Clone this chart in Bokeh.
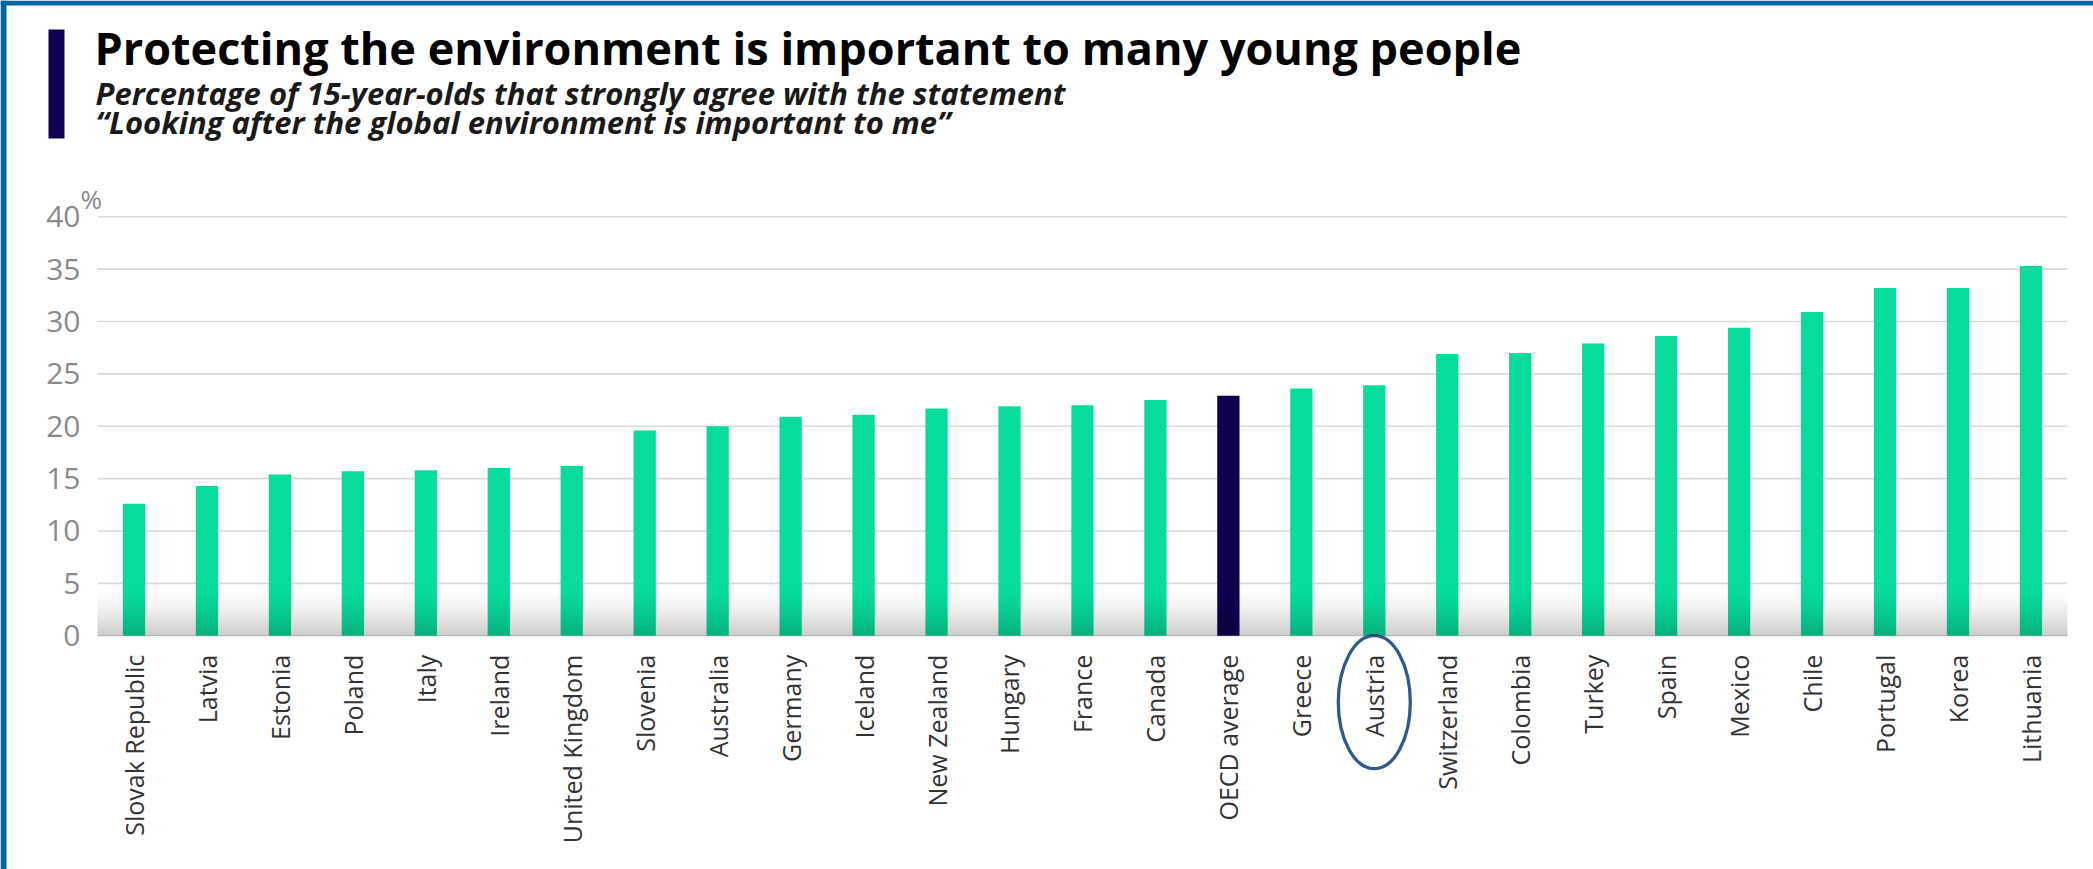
import numpy as np
from bokeh.plotting import figure
from bokeh.models import Range1d, FixedTicker, Label, BoxAnnotation
from bokeh.embed import file_html
from bokeh.resources import INLINE

# ---------------- data ----------------
countries = ["Slovak Republic", "Latvia", "Estonia", "Poland", "Italy", "Ireland",
             "United Kingdom", "Slovenia", "Australia", "Germany", "Iceland",
             "New Zealand", "Hungary", "France", "Canada", "OECD average", "Greece",
             "Austria", "Switzerland", "Colombia", "Turkey", "Spain", "Mexico",
             "Chile", "Portugal", "Korea", "Lithuania"]
values = [12.6, 14.3, 15.4, 15.7, 15.8, 16.0, 16.2, 19.6, 20.0, 20.9, 21.1,
          21.7, 21.9, 22.0, 22.5, 22.9, 23.6, 23.9, 26.9, 27.0, 27.9, 28.6, 29.4,
          30.9, 33.2, 33.2, 35.3]
highlight = "OECD average"
circled = "Austria"
y_ticks = [0, 5, 10, 15, 20, 25, 30, 35, 40]

title = "Protecting the environment is important to many young people"
subtitle_1 = "Percentage of 15-year-olds that strongly agree with the statement"
subtitle_2 = "\u201cLooking after the global environment is important to me\u201d"
unit_label = "%"

# ---------------- style ----------------
GREEN = "#07dc9c"
NAVY = "#10004f"
GRID = "#d9d9d9"
BORDER_BLUE = "#03639c"
FONT = "Open Sans"

W, H = 2093, 869
# layout helpers: plot area (categories) spans page x 97..2067, value 0 at page y 635.2
FRAME_LEFT_PAGE = 97.0
ZERO_PAGE = 635.2
PX_PER_CAT = 72.96
PX_PER_UNIT = 10.475


def x_at(page_x):
    return (page_x - FRAME_LEFT_PAGE) / PX_PER_CAT - 0.5


def y_at(page_y):
    return (ZERO_PAGE - page_y) / PX_PER_UNIT


xpos = list(range(len(countries)))
x_lo, x_hi = -0.5, len(countries) - 0.5

p = figure(width=W, height=H,
           x_range=Range1d(x_at(0), x_at(W)),
           y_range=Range1d(y_at(H), y_at(0)),
           output_backend="svg", toolbar_location=None,
           min_border=0, min_border_left=0, min_border_right=0,
           min_border_top=0, min_border_bottom=0,
           outline_line_color=None, background_fill_color="white",
           border_fill_color="white")

# horizontal grid lines over the plot area only
p.xgrid.visible = False
p.ygrid.visible = False
p.segment(x0=[x_lo] * len(y_ticks), x1=[x_hi] * len(y_ticks), y0=y_ticks, y1=y_ticks,
          line_color=GRID, line_width=1.6)

colors = [NAVY if c == highlight else GREEN for c in countries]
p.vbar(x=xpos, top=values, width=0.305, fill_color=colors, line_color=None)

# y axis drawn at the left edge of the plot area
p.yaxis.fixed_location = x_lo
p.yaxis.bounds = (0, 40)
p.yaxis.ticker = FixedTicker(ticks=y_ticks)
p.yaxis.axis_line_color = None
p.yaxis.major_tick_line_color = None
p.yaxis.minor_tick_line_color = None
p.yaxis.major_label_text_font = FONT
p.yaxis.major_label_text_font_size = "30px"
p.yaxis.major_label_text_color = "#8a8a8a"
p.yaxis.major_label_standoff = 11

# x axis drawn at value 0
p.xaxis.fixed_location = 0
p.xaxis.bounds = (x_lo, x_hi)
p.xaxis.ticker = FixedTicker(ticks=xpos)
p.xaxis.major_label_overrides = {i: c for i, c in zip(xpos, countries)}
p.xaxis.axis_line_color = None
p.xaxis.major_tick_line_color = None
p.xaxis.minor_tick_line_color = None
p.xaxis.major_label_orientation = np.pi / 2
p.xaxis.major_label_text_font = FONT
p.xaxis.major_label_text_font_size = "25px"
p.xaxis.major_label_text_color = "#333333"
p.xaxis.major_label_standoff = 13

# grey gradient band at the bottom of the plot area
n_strips = 40
edges = np.linspace(0, 4.8, n_strips + 1)
for i in range(n_strips):
    mid = 0.5 * (edges[i] + edges[i + 1])
    t = 1 - mid / 4.8
    p.add_layout(BoxAnnotation(left=x_lo, right=x_hi, bottom=edges[i], top=edges[i + 1],
                               fill_color="black", fill_alpha=0.21 * t ** 1.6,
                               line_color=None, level="overlay"))

# titles
p.add_layout(Label(x=x_at(94), y=y_at(47), text=title,
                   text_font=FONT, text_font_size="45px", text_font_style="bold",
                   text_color="#000000", text_baseline="alphabetic", text_align="left"))
p.add_layout(Label(x=x_at(95), y=y_at(92.5), text=subtitle_1,
                   text_font=FONT, text_font_size="31px", text_font_style="bold italic",
                   text_color="#1a1a1a", text_baseline="alphabetic", text_align="left"))
p.add_layout(Label(x=x_at(95), y=y_at(121), text=subtitle_2,
                   text_font=FONT, text_font_size="31px", text_font_style="bold italic",
                   text_color="#1a1a1a", text_baseline="alphabetic", text_align="left"))
# purple accent bar
p.add_layout(BoxAnnotation(left=x_at(48), right=x_at(64), top=y_at(29), bottom=y_at(138),
                           fill_color=NAVY, fill_alpha=1, line_color=None))
# unit label
p.add_layout(Label(x=x_at(80), y=y_at(198), text=unit_label,
                   text_font=FONT, text_font_size="26px",
                   text_color="#8a8a8a", text_baseline="alphabetic", text_align="left"))

# ellipse around the circled country's label
ci = countries.index(circled)
p.ellipse(x=[ci], y=[y_at(701.7)], width=72.0 / PX_PER_CAT, height=133.0 / PX_PER_UNIT,
          fill_color=None, line_color="#2f5a8a", line_width=3.3)

# blue frame on top and left
p.add_layout(BoxAnnotation(left=x_at(0), right=x_at(6), top=y_at(0), bottom=y_at(H),
                           fill_color=BORDER_BLUE, fill_alpha=1, line_color=None))
p.add_layout(BoxAnnotation(left=x_at(0), right=x_at(W), top=y_at(0), bottom=y_at(5),
                           fill_color=BORDER_BLUE, fill_alpha=1, line_color=None))

open("out.html", "w").write(file_html(p, INLINE))
